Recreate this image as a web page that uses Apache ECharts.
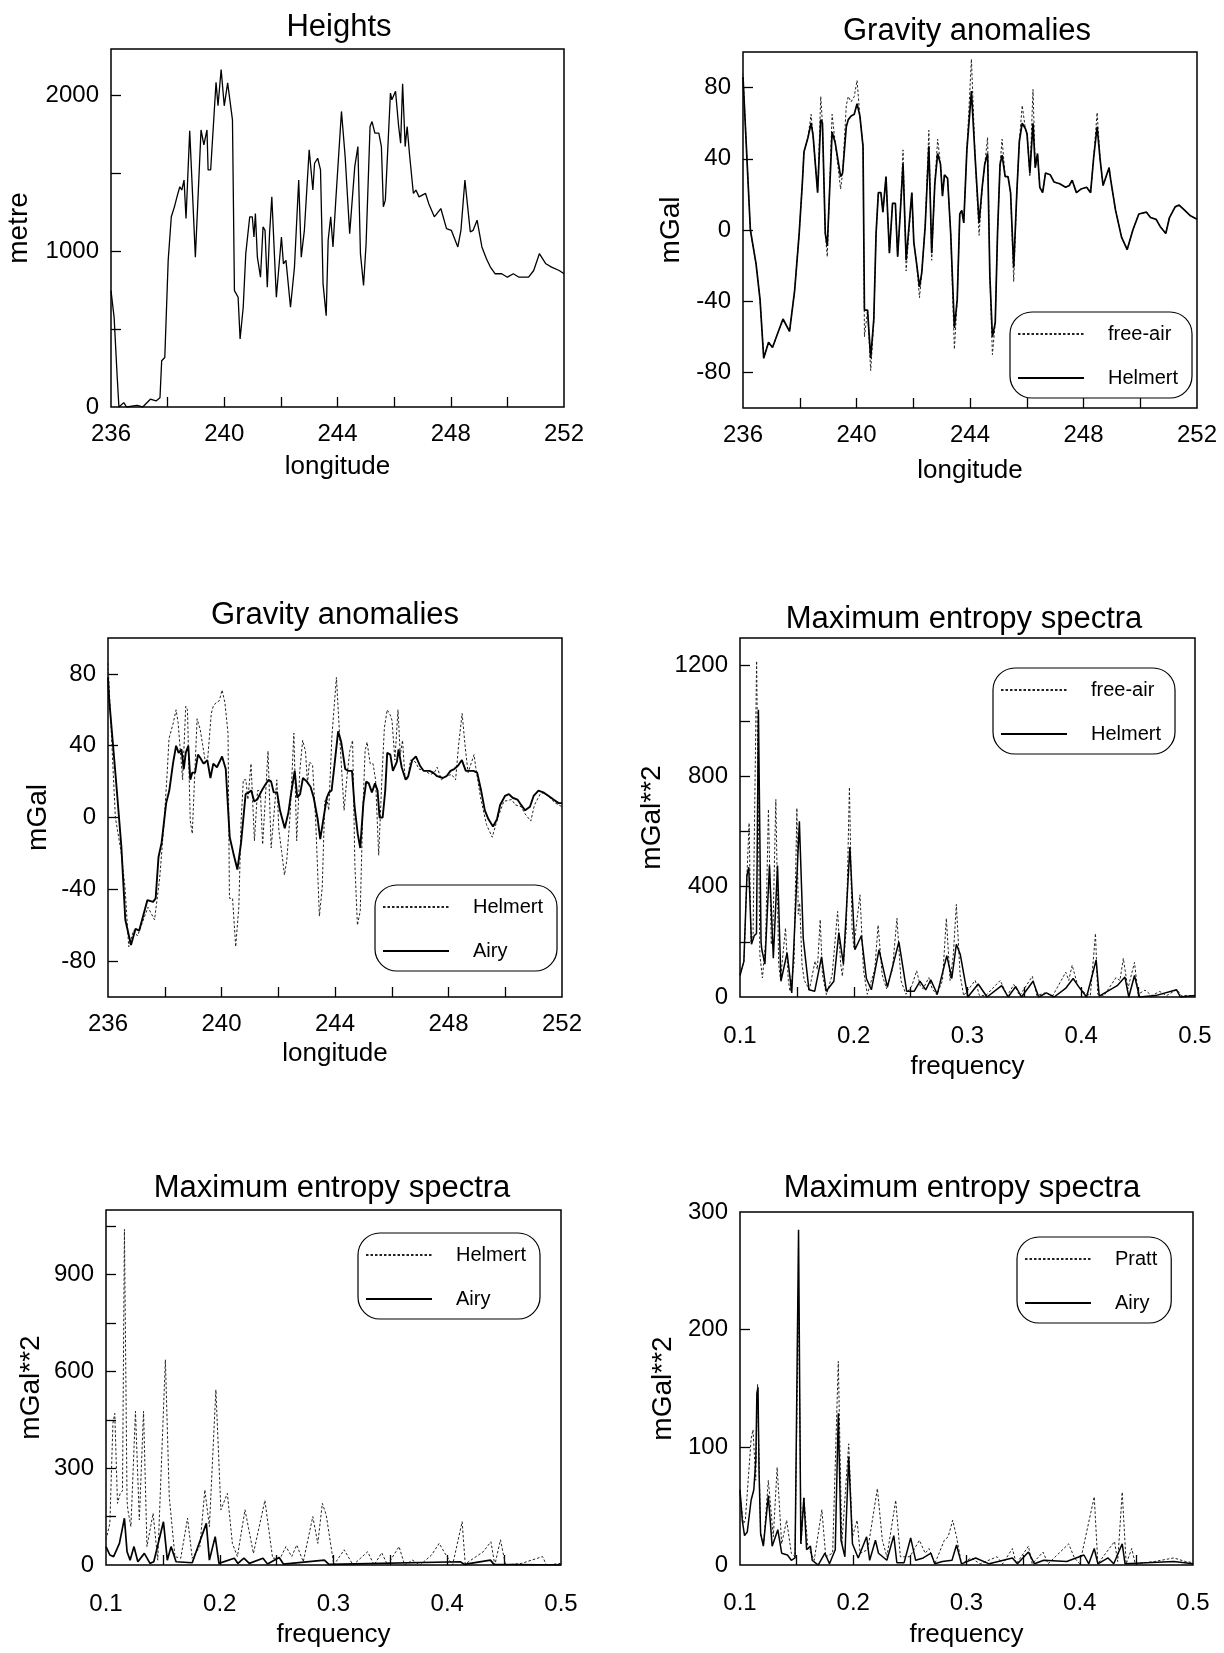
<!DOCTYPE html>
<html>
<head>
<meta charset="utf-8">
<script src="https://cdn.jsdelivr.net/npm/echarts@6/dist/echarts.min.js"></script>
<style>
html,body{margin:0;padding:0;background:#fff;}
#c{width:1224px;height:1653px;}
</style>
</head>
<body>
<div id="c"></div>
<script>
// ---------------- DATA ----------------
// Panel 1: Heights (longitude, metre)
const heightsLon = [236.0,236.11,236.22,236.28,236.45,236.55,236.92,237.12,237.39,237.59,237.73,237.79,237.9,238.02,238.13,238.24,238.33,238.43,238.5,238.58,238.65,238.78,238.98,239.18,239.28,239.39,239.43,239.52,239.71,239.78,239.89,240.0,240.12,240.29,240.36,240.49,240.56,240.67,240.76,240.9,240.99,241.05,241.1,241.17,241.28,241.37,241.44,241.52,241.6,241.68,241.84,242.02,242.09,242.18,242.34,242.48,242.63,242.72,242.83,243.0,243.06,243.13,243.19,243.3,243.4,243.49,243.6,243.67,243.76,243.84,243.94,244.14,244.27,244.43,244.61,244.72,244.81,244.92,245.01,245.15,245.22,245.32,245.46,245.55,245.62,245.69,245.87,245.92,246.05,246.16,246.23,246.3,246.39,246.46,246.54,246.68,246.77,246.88,247.11,247.22,247.42,247.65,247.85,248.02,248.25,248.36,248.5,248.69,248.79,248.93,249.1,249.26,249.4,249.57,249.8,250.0,250.21,250.41,250.75,250.93,251.13,251.36,251.56,251.83,252.0];
const heightsM = [748,576,189,0,28,0,10,0,50,39,60,297,318,942,1222,1286,1350,1415,1394,1458,1211,1774,963,1780,1684,1780,1523,1523,2086,1935,2168,1935,2082,1845,748,705,437,641,985,1222,1222,1092,1243,963,834,1157,1135,770,1114,1350,705,1092,920,942,641,899,1458,963,1135,1652,1652,1394,1566,1598,1523,791,587,1071,1222,1028,1329,1899,1609,1114,1544,1673,985,781,1049,1802,1834,1759,1759,1673,1286,1329,2017,1974,2028,1802,1695,2077,1673,1802,1630,1372,1394,1350,1372,1308,1222,1275,1146,1135,1028,1135,1458,1125,1135,1200,1028,953,899,856,856,834,856,834,834,877,985,920,899,877,856];

// Panels 2-3: gravity anomalies (mGal) on a shared longitude grid
const gravLon = [236.0,236.26,236.46,236.6,236.73,236.9,237.04,237.2,237.41,237.64,237.82,237.88,237.98,238.09,238.15,238.29,238.4,238.47,238.53,238.63,238.74,238.8,238.9,238.97,239.14,239.25,239.44,239.51,239.64,239.71,239.81,239.92,240.02,240.12,240.23,240.28,240.39,240.5,240.61,240.69,240.77,240.86,240.93,241.04,241.16,241.27,241.37,241.45,241.54,241.64,241.75,241.95,242.02,242.12,242.22,242.3,242.42,242.55,242.65,242.76,242.86,242.96,243.03,243.1,243.21,243.32,243.45,243.55,243.64,243.71,243.78,243.89,244.05,244.18,244.32,244.43,244.52,244.62,244.7,244.79,244.89,244.97,245.06,245.13,245.24,245.34,245.43,245.54,245.65,245.74,245.84,245.95,246.01,246.11,246.22,246.3,246.38,246.46,246.56,246.66,246.83,246.96,247.16,247.37,247.5,247.6,247.75,247.91,248.11,248.25,248.36,248.48,248.59,248.69,248.76,248.9,248.96,249.13,249.34,249.54,249.74,249.95,250.22,250.36,250.56,250.7,250.9,251.03,251.23,251.37,251.57,251.77,252.0];
const helmertGrav = [86,0,-19,-39,-72,-63,-66,-59,-50,-57,-34,-35,-2,26,44,52,60,53,54,21,62,60,-2,-9,55,49,30,32,58,62,64,65,71,64,47,-45,-45,-72,-50,-2,21,21,10,30,-13,15,15,-15,9,37,-17,21,-7,-19,-32,-24,2,47,-13,26,43,37,19,31,29,-2,-55,-39,9,11,4,45,78,41,4,24,37,43,-26,-60,-52,-2,37,42,30,30,21,-21,21,50,60,57,54,32,60,35,43,24,21,32,31,27,26,24,25,28,21,23,24,21,41,58,39,25,25,35,28,11,-4,-11,0,9,10,7,6,2,-2,7,13,14,11,8,6];
const freeAirGrav = [88,0,-19,-39,-72,-63,-66,-59,-50,-57,-34,-35,-2,26,44,52,65,53,54,21,75,60,-2,-15,65,49,23,32,70,75,72,75,84,64,47,-60,-45,-79,-52,-2,21,21,10,30,-13,15,15,-15,9,45,-23,21,-7,-19,-38,-24,2,56,-17,26,51,37,19,31,29,-2,-67,-39,9,11,4,45,96,41,-3,24,37,52,-26,-70,-52,-2,37,51,30,30,21,-29,21,50,70,57,54,30,79,35,43,24,21,32,31,27,26,24,25,28,21,23,24,21,41,66,39,25,25,35,28,11,-4,-11,0,9,10,7,6,2,-2,7,13,14,11,8,6];
const airyLon = [236.0,236.04,236.27,236.47,236.61,236.81,236.97,237.1,237.39,237.59,237.68,237.78,237.89,238.05,238.16,238.29,238.4,238.49,238.59,238.67,238.74,238.83,238.9,238.97,239.07,239.17,239.26,239.37,239.5,239.61,239.71,239.84,240.02,240.15,240.29,240.42,240.56,240.69,240.85,240.96,241.05,241.15,241.26,241.42,241.53,241.66,241.75,241.84,241.96,242.06,242.23,242.36,242.44,242.58,242.67,242.77,242.87,243.01,243.14,243.25,243.39,243.48,243.57,243.71,243.79,243.88,243.98,244.11,244.22,244.36,244.46,244.6,244.69,244.8,244.89,245.0,245.1,245.19,245.3,245.41,245.5,245.57,245.68,245.77,245.84,245.95,246.04,246.18,246.24,246.35,246.49,246.58,246.72,246.85,246.99,247.12,247.33,247.46,247.6,247.8,247.93,248.07,248.2,248.34,248.47,248.61,248.74,248.88,249.01,249.15,249.28,249.41,249.57,249.71,249.82,249.99,250.13,250.26,250.43,250.56,250.7,250.87,251.0,251.17,251.34,251.53,251.7,251.88,252.0];
const airyGrav = [78,66,23,-16,-57,-71,-62,-63,-46,-47,-45,-22,-14,8,15,30,40,36,38,27,36,40,21,25,25,35,33,30,32,22,30,28,34,27,-11,-20,-29,-14,13,14,15,9,10,15,18,21,20,14,14,4,-6,3,12,26,11,13,22,20,17,11,-1,-12,-3,11,14,15,29,48,42,27,26,26,6,-9,-17,8,20,19,14,19,15,0,0,15,36,35,26,31,38,28,21,23,32,34,29,26,26,25,23,22,23,26,27,29,32,26,26,26,25,15,4,-1,-5,-1,7,12,13,11,10,7,4,6,12,15,14,12,10,8,8];

// Panels 4-6: maximum entropy spectra (frequency, mGal**2)
const freeAirSpecF = [0.1,0.1035,0.1062,0.108,0.1097,0.1115,0.1146,0.1175,0.1197,0.1225,0.125,0.1275,0.129,0.1315,0.134,0.1356,0.14,0.1425,0.144,0.1475,0.15,0.1512,0.1525,0.1545,0.1565,0.161,0.166,0.168,0.1705,0.1725,0.176,0.181,0.1858,0.1885,0.19,0.1935,0.1962,0.1985,0.2,0.2055,0.2085,0.2119,0.2185,0.2214,0.225,0.2288,0.234,0.238,0.2415,0.2458,0.251,0.2553,0.2585,0.261,0.266,0.269,0.273,0.278,0.2814,0.2847,0.2875,0.2902,0.2935,0.2966,0.3068,0.3105,0.316,0.3288,0.335,0.3407,0.346,0.357,0.361,0.368,0.375,0.3864,0.389,0.392,0.397,0.403,0.408,0.4125,0.4145,0.42,0.4305,0.434,0.437,0.441,0.4468,0.45,0.456,0.462,0.469,0.475,0.484,0.488,0.5];
const freeAirSpec = [80,130,450,630,200,230,1217,150,69,200,680,190,250,715,120,63,250,60,20,120,684,300,340,120,60,27,130,100,280,80,8,80,310,120,75,250,760,250,180,370,100,10,100,260,80,30,100,285,60,10,40,95,40,30,70,30,8,60,285,60,150,335,80,5,60,5,5,60,5,45,5,75,5,15,5,90,60,115,40,15,5,230,10,5,70,60,140,30,125,10,25,5,20,5,27,5,5];
const helmertSpecF = [0.1,0.1034,0.1061,0.1077,0.1101,0.1125,0.1145,0.1162,0.1185,0.1192,0.1219,0.1259,0.1293,0.133,0.136,0.1414,0.1455,0.1522,0.1556,0.1606,0.1657,0.1717,0.1758,0.1825,0.1869,0.1909,0.1966,0.201,0.2067,0.2111,0.2155,0.2222,0.2296,0.2397,0.2465,0.2532,0.2582,0.2633,0.2677,0.2734,0.2818,0.2862,0.2902,0.2936,0.3003,0.3094,0.3172,0.33,0.3357,0.3424,0.3475,0.3576,0.3626,0.3694,0.3762,0.3862,0.3929,0.398,0.4047,0.4131,0.4158,0.4316,0.4384,0.4418,0.4468,0.4512,0.4653,0.4838,0.4872,0.5];
const helmertSpec = [78,129,440,470,191,222,230,1040,200,171,119,476,140,476,57,160,15,636,212,26,21,145,21,57,233,119,543,171,222,67,26,171,36,200,21,21,57,26,62,10,150,67,191,155,0,47,0,41,0,38,0,57,0,15,0,31,67,36,0,134,3,41,72,0,78,0,5,26,0,5];
const airySpecAF = [0.1,0.1034,0.1067,0.1118,0.1162,0.1185,0.1212,0.1246,0.128,0.1337,0.1387,0.142,0.1505,0.1539,0.1572,0.1616,0.1758,0.1882,0.1909,0.196,0.1993,0.2128,0.216,0.2212,0.226,0.238,0.242,0.2522,0.256,0.292,0.296,0.4115,0.415,0.438,0.441,0.5];
const airySpecA = [57,31,26,67,145,41,15,57,10,36,5,10,134,15,57,10,7,129,15,88,5,21,5,21,5,21,3,23,3,15,2,10,2,15,2,0];
const airySpecBF = [0.1,0.102,0.104,0.1064,0.1098,0.1122,0.114,0.1149,0.1159,0.1168,0.1182,0.1206,0.125,0.1284,0.1334,0.1368,0.1419,0.1453,0.1486,0.1517,0.1537,0.1564,0.1588,0.1622,0.1638,0.169,0.175,0.179,0.1841,0.1868,0.1892,0.1926,0.196,0.1993,0.2044,0.2118,0.2145,0.2196,0.2223,0.2297,0.2358,0.2385,0.2449,0.2507,0.2551,0.2618,0.2686,0.272,0.2787,0.2872,0.2912,0.2956,0.3081,0.32,0.3405,0.345,0.3547,0.36,0.3682,0.3885,0.4037,0.408,0.4128,0.416,0.425,0.43,0.4375,0.44,0.4831,0.5];
const airySpecB = [64,38,25,28,55,64,90,146,151,80,27,16,59,16,30,10,8.5,4,6,285,18,57,13,16,4,0,10,1,13,129,21,7,92,18,6,24,4,21,10,4,25,2,2,23,4,6,10,1,3,4,17,1,6,1,6,1,11,1,4,3,8.5,1,14,1,6,1,18,1,3,1];
const prattSpecF = [0.1,0.103,0.1047,0.1098,0.1115,0.1139,0.1155,0.1182,0.1209,0.125,0.1294,0.1328,0.1368,0.1412,0.1453,0.1486,0.1517,0.154,0.1564,0.1598,0.1655,0.1723,0.1757,0.1818,0.1868,0.1899,0.196,0.1993,0.2034,0.2061,0.2128,0.2213,0.2257,0.2297,0.2375,0.2416,0.25,0.2584,0.2635,0.2669,0.272,0.2804,0.2838,0.2878,0.2912,0.2956,0.3041,0.312,0.327,0.332,0.3405,0.344,0.3547,0.358,0.3676,0.372,0.3902,0.3953,0.4,0.4128,0.416,0.4307,0.4335,0.4375,0.441,0.4459,0.449,0.4662,0.4831,0.4932,0.5];
const prattSpec = [61,35,38,107,115,72,154,24,18,72,24,83,18,38,10,7,230,18,58,16,4,47,7,10,173,18,103,24,38,10,13,65,21,7,55,7,7,21,10,14,1,21,24,38,24,1,6,1,7,1,14,1,16,1,11,1,18,6,1,58,1,20,3,62,1,14,1,3,6,3,2];

// Tick labels / tick positions
const lonLabels = [236,240,244,248,252];
const lonTicks = [238,240,242,244,246,248,250];
const freqLabels = [0.1,0.2,0.3,0.4,0.5];
const freqTicks = [0.15,0.2,0.25,0.3,0.35,0.4,0.45];

// ---------------- CHART ----------------
const FONT = 'Liberation Sans, Arial, sans-serif';
const chart = echarts.init(document.getElementById('c'), null, {renderer:'canvas', width:1224, height:1653});
const pairs = (xs, ys) => xs.map((x,i)=>[x, ys[i]]);
const plain = v => String(v);

const gridsPx = [
  {l:111, t:49,   r:564,  b:407},
  {l:743, t:52,   r:1197, b:408},
  {l:108, t:638,  r:562,  b:997},
  {l:740, t:638,  r:1195, b:997},
  {l:106, t:1210, r:561,  b:1565},
  {l:740, t:1212, r:1193, b:1565}
];
const grid = gridsPx.map(g=>({left:g.l, top:g.t, width:g.r-g.l, height:g.b-g.t, show:true, borderColor:'#000', borderWidth:1.5, backgroundColor:'transparent', containLabel:false}));

const titles = [
  {text:'Heights', x:339, y:12},
  {text:'Gravity anomalies', x:967, y:16},
  {text:'Gravity anomalies', x:335, y:600},
  {text:'Maximum entropy spectra', x:964, y:604},
  {text:'Maximum entropy spectra', x:332, y:1173},
  {text:'Maximum entropy spectra', x:962, y:1173}
].map(t=>({text:t.text, left:t.x, top:t.y, textAlign:'center', padding:0, textStyle:{fontFamily:FONT, fontSize:31, fontWeight:'normal', color:'#000'}}));

function xAxisDef(idx, kind, nameGap, labelMargin){
  const isLon = kind==='lon';
  return {
    gridIndex: idx, type:'value',
    min: isLon?236:0.1, max: isLon?252:0.5, interval: isLon?4:0.1,
    name: isLon?'longitude':'frequency', nameLocation:'middle', nameGap: nameGap,
    nameTextStyle:{fontFamily:FONT, fontSize:26, color:'#000'},
    axisLine:{show:false, onZero:false},
    splitLine:{show:false},
    axisTick:{show:true, inside:true, length:10, lineStyle:{color:'#000', width:1.3}, customValues: isLon?lonTicks:freqTicks},
    axisLabel:{fontFamily:FONT, fontSize:24, color:'#000', margin:labelMargin, formatter:plain, customValues: isLon?lonLabels:freqLabels, showMinLabel:true, showMaxLabel:true}
  };
}
function yAxisDef(idx, name, min, max, interval, labels, ticks, nameGap){
  return {
    gridIndex: idx, type:'value', min:min, max:max, interval:interval,
    name:name, nameLocation:'middle', nameGap:nameGap, nameRotate:90,
    nameTextStyle:{fontFamily:FONT, fontSize:28, color:'#000'},
    axisLine:{show:false, onZero:false},
    splitLine:{show:false},
    axisTick:{show:true, inside:true, length:10, lineStyle:{color:'#000', width:1.3}, customValues:ticks},
    axisLabel:{fontFamily:FONT, fontSize:24, color:'#000', margin:12, formatter:plain, customValues:labels}
  };
}
const xAxis = [
  xAxisDef(0,'lon',47,15), xAxisDef(1,'lon',50,15), xAxisDef(2,'lon',44,15),
  xAxisDef(3,'freq',57,27), xAxisDef(4,'freq',57,27), xAxisDef(5,'freq',57,26)
];
const yAxis = [
  yAxisDef(0,'metre',0,2300,100,[0,1000,2000],[500,1000,1500,2000],78),
  yAxisDef(1,'mGal',-100,100,20,[-80,-40,0,40,80],[-80,-40,0,40,80],58),
  yAxisDef(2,'mGal',-100,100,20,[-80,-40,0,40,80],[-80,-40,0,40,80],56),
  yAxisDef(3,'mGal**2',0,1300,100,[0,400,800,1200],[200,400,600,800,1000,1200],74),
  yAxisDef(4,'mGal**2',0,1100,150,[0,300,600,900],[150,300,450,600,750,900,1050],61),
  yAxisDef(5,'mGal**2',0,300,50,[0,100,200,300],[100,200],63)
];

function solid(name, idx, data, w){
  return {name:name, type:'line', xAxisIndex:idx, yAxisIndex:idx, data:data, symbol:'none', showSymbol:false, animation:false, z:3,
    itemStyle:{color:'#000'},
    lineStyle:{color:'#000', width:w||1.3, type:'solid'}};
}
function dashed(name, idx, data){
  return {name:name, type:'line', xAxisIndex:idx, yAxisIndex:idx, data:data, symbol:'none', showSymbol:false, animation:false, z:2,
    itemStyle:{color:'#222'},
    lineStyle:{color:'#222', width:1, type:[2.5,2]}};
}
const series = [
  solid('Heights|1', 0, pairs(heightsLon, heightsM), 1.3),
  dashed('free-air|2', 1, pairs(gravLon, freeAirGrav)),
  solid('Helmert|2', 1, pairs(gravLon, helmertGrav), 1.7),
  dashed('Helmert|3', 2, pairs(gravLon, helmertGrav)),
  solid('Airy|3', 2, pairs(airyLon, airyGrav), 1.9),
  dashed('free-air|4', 3, pairs(freeAirSpecF, freeAirSpec)),
  solid('Helmert|4', 3, pairs(helmertSpecF, helmertSpec), 1.5),
  dashed('Helmert|5', 4, pairs(helmertSpecF, helmertSpec)),
  solid('Airy|5', 4, pairs(airySpecAF, airySpecA), 1.7),
  dashed('Pratt|6', 5, pairs(prattSpecF, prattSpec)),
  solid('Airy|6', 5, pairs(airySpecBF, airySpecB), 1.5)
];

function legendAt(left, top, names){
  return {
    left:left, top:top, orient:'vertical', data:names, selectedMode:false,
    itemWidth:66, itemHeight:14, itemGap:24, padding:[12,14,10,7],
    borderColor:'#000', borderWidth:1.2, borderRadius:22, backgroundColor:'#fff', z:10,
    itemStyle:{opacity:0},
    formatter: n => n.split('|')[0],
    textStyle:{fontFamily:FONT, fontSize:20, color:'#000', lineHeight:20, padding:[0,0,0,19]}
  };
}
const legend = [
  legendAt(1010, 312, ['free-air|2','Helmert|2']),
  legendAt(375, 885, ['Helmert|3','Airy|3']),
  legendAt(993, 668, ['free-air|4','Helmert|4']),
  legendAt(358, 1233, ['Helmert|5','Airy|5']),
  legendAt(1017, 1237, ['Pratt|6','Airy|6'])
];

chart.setOption({
  backgroundColor:'#fff',
  animation:false,
  title:titles, grid:grid, xAxis:xAxis, yAxis:yAxis, legend:legend, series:series
});
</script>
</body>
</html>
